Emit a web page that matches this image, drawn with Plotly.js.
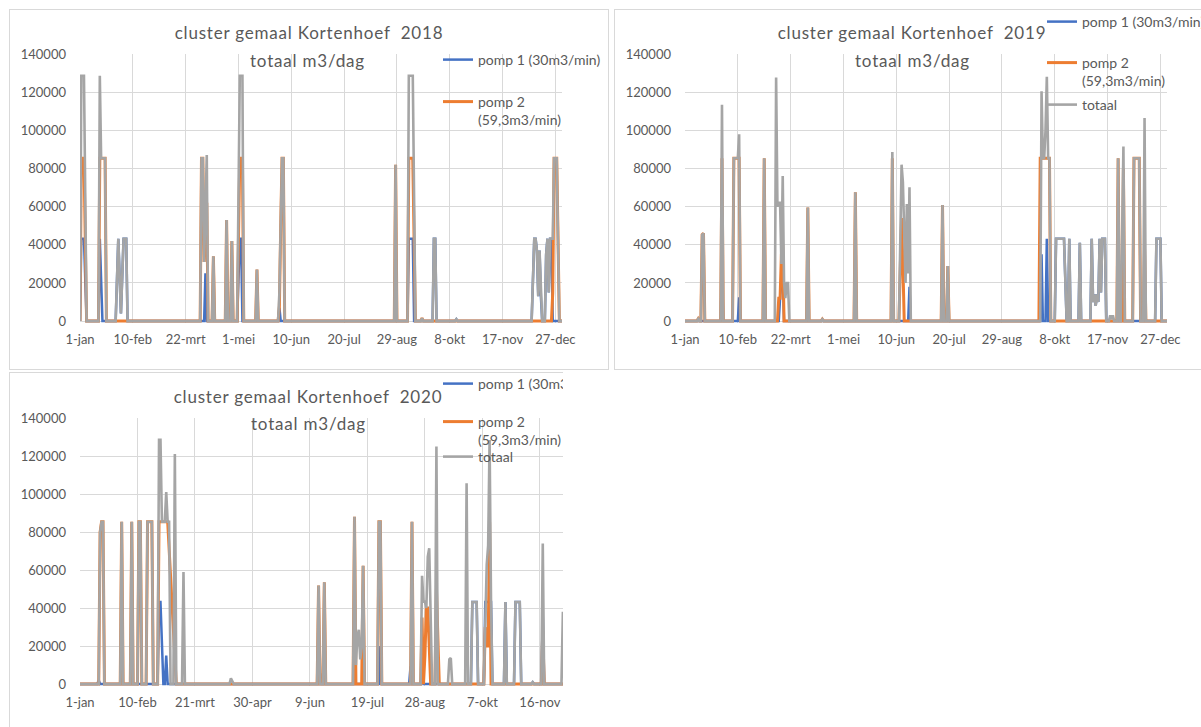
<!DOCTYPE html>
<html>
<head>
<meta charset="utf-8">
<title>cluster gemaal Kortenhoef</title>
<script src="https://cdn.plot.ly/plotly-3.0.1.min.js"></script>
<style>
  html, body { margin:0; padding:0; width:1201px; height:727px; overflow:hidden; background:#ffffff; }
  .box { position:absolute; border:1px solid #d9d9d9; background:#ffffff; }
  #clip3 { position:absolute; left:0; top:372px; width:563px; height:355px; overflow:hidden; }
  .gtitle, .annotation-text { letter-spacing:0.8px; }
</style>
</head>
<body>
<div id="chart2018" class="box" style="left:9px; top:9px; width:598px; height:359px;"></div>
<div id="chart2019" class="box" style="left:614px; top:9px; width:640px; height:359px;"></div>
<div id="clip3"><div id="chart2020" class="box" style="left:9px; top:0px; width:640px; height:400px;"></div></div>
<script>
// ---------- tick labels ----------
const tickDays = [0, 40, 80, 120, 160, 200, 240, 280, 320, 360];
const labels2018 = ['1-jan','10-feb','22-mrt','1-mei','10-jun','20-jul','29-aug','8-okt','17-nov','27-dec'];
const labels2019 = ['1-jan','10-feb','22-mrt','1-mei','10-jun','20-jul','29-aug','8-okt','17-nov','27-dec'];
const labels2020 = ['1-jan','10-feb','21-mrt','30-apr','9-jun','19-jul','28-aug','7-okt','16-nov','26-dec'];

// ---------- 2018 : [day of year (0 = 1 jan), m3/dag] ----------
const pomp1_2018 = [[0,0],[1,43200],[3,43200],[5,0],
 [14,0],[15,43200],[17,0],
 [27,0],[29,43200],[31,4000],[33,43200],[35,43200],[36,0],
 [94,0],[95,25000],[96,0],
 [119,0],[121,43200],[122,43200],[123,0],
 [150,0],[151,7000],[152,0],
 [248,0],[249,43200],[252,43200],[253,0],
 [267,0],[268,43200],[269,43200],[270,0],
 [284,0],[285,1000],[286,0],
 [342,0],[344,43200],[345,43200],[346,37000],[347,13000],[348,37000],[349,13000],[350,0],
 [352,0],[353,35000],[354,43200],[355,15000],[356,43200],[357,43200],[358,0],
 [365,0]];
const pomp2_2018 = [[0,0],[1,85392],[3,85392],[5,0],
 [14,0],[15,85392],[19,85392],[20,0],
 [91,0],[92,85392],[93,85392],[94,31000],[96,62000],[97,0],
 [100,0],[101,34000],[102,0],
 [110,0],[111,53000],[112,0],
 [114,0],[115,42000],[116,0],
 [119,0],[121,85392],[123,85392],[124,0],
 [133,0],[134,27000],[135,0],
 [150,0],[151,8000],[152,50000],[153,85392],[154,85392],[155,0],
 [238,0],[239,82000],[240,0],
 [248,0],[249,85392],[252,85392],[254,0],
 [258,0],[259,1500],[260,0],
 [357,0],[358,15000],[359,85392],[361,85392],[363,0],
 [365,0]];
const totaal_2018 = [[0,0],[1,128592],[3,128592],[5,0],
 [14,0],[15,128592],[16,85392],[19,85392],[20,0],
 [27,0],[29,43200],[31,4000],[33,43200],[35,43200],[36,0],
 [91,0],[92,85392],[93,85392],[94,31000],[96,87000],[97,0],
 [100,0],[101,34000],[102,0],
 [110,0],[111,53000],[112,0],
 [114,0],[115,42000],[116,0],
 [119,0],[121,128592],[123,128592],[124,0],
 [133,0],[134,27000],[135,0],
 [150,0],[151,15000],[152,50000],[153,85392],[154,85392],[155,0],
 [238,0],[239,82000],[240,0],
 [248,0],[249,128592],[252,128592],[254,0],
 [258,0],[259,1500],[260,0],
 [267,0],[268,43200],[269,43200],[270,0],
 [284,0],[285,1000],[286,0],
 [342,0],[344,43200],[345,43200],[346,37000],[347,13000],[348,37000],[349,13000],[350,0],
 [352,0],[353,35000],[354,43200],[355,15000],[356,43200],[357,43200],[358,43200],[359,85392],[361,85392],[363,0],
 [365,0]];

// ---------- 2019 ----------
const pomp1_2019 = [[0,0],
 [27,0],[28,28000],[29,0],
 [40,0],[41,12500],[42,0],
 [71,0],[72,12000],[73,23000],[74,23000],[75,0],
 [156,0],[157,3200],[158,0],
 [169,0],[170,18000],[171,0],
 [269,0],[270,35000],[271,0],
 [273,0],[274,43200],[275,0],
 [280,0],[281,43200],[287,43200],[289,0],
 [290,0],[291,43200],[292,0],
 [298,0],[299,41000],[300,0],
 [307,0],[308,43200],[309,10000],[310,14000],[311,8000],[312,14000],[313,10000],[314,43200],[315,15000],[316,43200],[318,43200],[319,0],
 [356,0],[357,43200],[360,43200],[361,0],
 [365,0]];
const pomp2_2019 = [[0,0],
 [9,0],[10,1200],[11,0],
 [12,0],[13,45300],[14,46000],[15,0],
 [27,0],[28,85392],[29,0],
 [36,0],[37,85392],[41,85392],[42,0],
 [59,0],[60,85392],[61,0],
 [70,0],[71,12000],[72,12000],[73,35000],[74,40000],[75,0],
 [92,0],[93,59500],[94,0],
 [103,0],[104,1000],[105,0],
 [128,0],[129,67500],[130,0],
 [156,0],[157,85392],[158,0],
 [162,0],[164,54000],[165,30000],[166,0],
 [194,0],[195,60900],[196,0],
 [198,0],[199,28800],[200,0],
 [268,0],[269,85392],[276,85392],[277,0],
 [327,0],[328,85392],[329,0],
 [331,0],[332,80000],[333,0],
 [339,0],[340,85392],[344,85392],[345,0],
 [347,0],[348,38000],[349,0],
 [365,0]];
const totaal_2019 = [[0,0],
 [9,0],[10,1200],[11,0],
 [12,0],[13,45300],[14,46000],[15,0],
 [27,0],[28,113400],[29,0],
 [36,0],[37,85392],[40,85392],[41,97900],[42,0],
 [59,0],[60,85392],[61,0],
 [68,0],[69,127700],[70,60000],[71,62000],[72,62000],[73,30000],[74,76000],[75,20000],[76,12000],[77,20000],[78,20000],[79,0],
 [92,0],[93,59500],[94,0],
 [103,0],[104,1000],[105,0],
 [128,0],[129,67500],[130,0],
 [156,0],[157,88600],[158,0],
 [162,0],[164,82000],[165,72900],[167,20000],[168,61400],[169,25000],[170,70100],[171,0],
 [194,0],[195,60900],[196,0],
 [198,0],[199,28800],[200,0],
 [269,0],[270,120500],[271,85392],[272,85392],[273,100000],[274,128000],[275,85392],[276,85392],[277,0],
 [280,0],[281,43200],[287,43200],[289,0],
 [290,0],[291,43200],[292,0],
 [298,0],[299,41000],[300,0],
 [307,0],[308,43200],[309,10000],[310,14000],[311,8000],[312,14000],[313,10000],[314,43200],[315,15000],[316,43200],[318,43200],[319,0],
 [321,0],[322,3000],[323,1000],[324,3000],[325,0],
 [327,0],[328,85392],[329,0],
 [330,0],[332,91500],[333,0],
 [339,0],[340,85392],[344,85392],[345,0],
 [347,0],[348,106500],[349,0],
 [356,0],[357,43200],[360,43200],[361,0],
 [365,0]];

// ---------- 2020 ----------
const pomp1_2020 = [[0,0],
 [12,0],[13,2000],[14,0],
 [54,0],[55,43200],[56,43200],[58,0],[59,0],[60,15000],[61,0],
 [166,0],[167,5800],[168,0],
 [208,0],[209,20000],[210,0],
 [229,0],[230,9300],[231,0],
 [237,0],[238,5000],[239,0],
 [272,0],[273,43200],[276,43200],[277,0],
 [281,0],[282,43200],[286,43200],[287,0],
 [295,0],[296,43200],[297,0],
 [302,0],[303,43200],[306,43200],[307,0],
 [314,0],[315,1000],[316,0],
 [321,0],[322,36000],[323,0],
 [366,0]];
const pomp2_2020 = [[0,0],
 [13,0],[14,80000],[15,85392],[16,85392],[17,0],
 [28,0],[29,85392],[30,0],
 [35,0],[36,85392],[37,0],
 [40,0],[41,85392],[42,85392],[43,0],
 [46,0],[47,85392],[50,85392],[51,0],
 [54,0],[55,85392],[61,85392],[67,0],
 [165,0],[166,51900],[167,0],
 [169,0],[170,53600],[171,0],
 [190,0],[191,88100],[192,0],
 [196,0],[197,62200],[198,0],
 [207,0],[208,85392],[209,85392],[210,0],
 [230,0],[231,85392],[232,0],
 [237,0],[238,35000],[239,0],[240,15000],[241,40000],[242,40000],[243,20000],[244,0],
 [247,0],[248,50000],[250,0],
 [281,0],[282,30000],[283,20000],[284,20000],[285,85392],[286,0],
 [321,0],[322,28000],[323,0],
 [366,0]];
const totaal_2020 = [[0,0],
 [13,0],[14,80000],[15,85392],[16,85392],[17,0],
 [28,0],[29,85392],[30,0],
 [35,0],[36,85392],[37,0],
 [40,0],[41,85392],[42,85392],[43,0],
 [46,0],[47,85392],[50,85392],[51,0],
 [54,0],[55,128592],[56,128592],[57,85392],[59,85392],[60,101000],[61,85392],[62,85392],[63,0],
 [65,0],[66,121000],[67,0],
 [71,0],[72,59000],[73,0],
 [104,0],[105,3000],[107,0],
 [165,0],[166,51900],[167,0],
 [169,0],[170,53600],[171,0],
 [190,0],[191,88100],[192,10000],[193,25000],[194,28600],[195,13000],[196,20000],[197,62200],[198,0],
 [207,0],[208,85392],[209,85392],[210,0],
 [230,0],[231,85392],[232,0],
 [237,0],[238,57000],[239,43400],[240,43400],[241,40000],[242,67000],[243,71500],[244,35000],[245,0],
 [247,0],[248,125000],[249,0],
 [256,0],[257,13000],[258,13700],[259,0],
 [268,0],[269,105600],[270,0],
 [272,0],[273,43200],[276,43200],[277,0],
 [281,0],[283,62700],[284,73000],[285,128400],[286,43200],[287,0],
 [295,0],[296,43200],[297,0],
 [302,0],[303,43200],[306,43200],[307,0],
 [314,0],[315,1000],[316,0],
 [321,0],[322,74000],[323,0],
 [335,0],[336,38000],[337,0],
 [366,0]];

// ---------- styling ----------
const BLUE = '#4472C4', ORANGE = '#ED7D31', GREY = '#A5A5A5', TXT = '#595959', GRID = '#d9d9d9';
const FONT = 'Lato, "Open Sans", sans-serif';
const xs = a => a.map(p => p[0]);
const ys = a => a.map(p => p[1]);

function buildPanel(id, cfg) {
  const W = cfg.w, H = cfg.h, L = 70;
  const traces = [
    {type:'scatter', mode:'lines', x:xs(cfg.p1), y:ys(cfg.p1), name:'pomp 1 (30m3/min)',
     legend:'legend', line:{color:BLUE, width:2.5}},
    {type:'scatter', mode:'lines', x:xs(cfg.p2), y:ys(cfg.p2), name:'pomp 2<br>(59,3m3/min)',
     legend:'legend2', line:{color:ORANGE, width:3}},
    {type:'scatter', mode:'lines', x:xs(cfg.t), y:ys(cfg.t), name:'totaal',
     legend:'legend3', showlegend:cfg.showTotaal, line:{color:GREY, width:2.6}}
  ];
  // legend positions given in pixels inside the panel, converted to paper fractions
  const leg = (px, py, anchor) => ({
    x: (px - L) / cfg.plotW, y: 1 - (py - cfg.top) / cfg.plotH, xref:'paper', yref:'paper',
    xanchor:'left', yanchor:anchor, bgcolor:'rgba(0,0,0,0)', borderwidth:0,
    valign:'top', itemwidth:30, font:{family:FONT, size:14, color:TXT}
  });
  const layout = {
    width:W, height:H,
    margin:{l:L, r:W - L - cfg.plotW, t:cfg.top, b:H - cfg.top - cfg.plotH, pad:0, autoexpand:false},
    paper_bgcolor:'#ffffff', plot_bgcolor:'#ffffff',
    font:{family:FONT, size:13, color:TXT},
    showlegend:true,
    title:{text:cfg.title, xref:'container', yref:'container', x:cfg.titleX / W, y:1 - cfg.titleY / H,
           xanchor:'center', yanchor:'middle', font:{family:FONT, size:17, color:TXT}},
    annotations:[{text:'totaal m3/dag', xref:'paper', yref:'paper', x:cfg.subX, y:cfg.subY,
                  xanchor:'center', yanchor:'middle', showarrow:false,
                  font:{family:FONT, size:17, color:TXT}}],
    xaxis:{range:[0, cfg.N], tickmode:'array', tickvals:tickDays, ticktext:cfg.labels, tickangle:0,
           showgrid:true, gridcolor:GRID, gridwidth:1, zeroline:false, showline:false,
           ticks:'', ticklabelstandoff:7, automargin:false, tickfont:{family:FONT, size:13, color:TXT}},
    yaxis:{range:[-1000, 140000], tick0:0, dtick:20000, tickformat:'d', automargin:false,
           showgrid:true, gridcolor:GRID, gridwidth:1, zeroline:false, showline:false,
           ticks:'', ticklabelstandoff:13, tickfont:{family:FONT, size:13, color:TXT}},
    legend:leg(cfg.legX, cfg.legY[0], 'middle'),
    legend2:leg(cfg.legX, cfg.legY[1], 'top'),
    legend3:leg(cfg.legX, cfg.legY[2], 'middle')
  };
  Plotly.newPlot(id, traces, layout, {staticPlot:true, displayModeBar:false});
}

buildPanel('chart2018', {
  w:598, h:359, top:44, plotW:482, plotH:269, N:365, labels:labels2018,
  p1:pomp1_2018, p2:pomp2_2018, t:totaal_2018, showTotaal:false,
  title:'cluster gemaal Kortenhoef  2018', titleX:299, titleY:23,
  subX:0.471, subY:0.975,
  legX:428, legY:[50, 76, 0]
});
buildPanel('chart2019', {
  w:640, h:359, top:44, plotW:482, plotH:269, N:365, labels:labels2019,
  p1:pomp1_2019, p2:pomp2_2019, t:totaal_2019, showTotaal:true,
  title:'cluster gemaal Kortenhoef  2019', titleX:297, titleY:23,
  subX:0.471, subY:0.975,
  legX:427, legY:[12, 37, 95]
});
buildPanel('chart2020', {
  w:640, h:400, top:45, plotW:526, plotH:268, N:366, labels:labels2020,
  p1:pomp1_2020, p2:pomp2_2020, t:totaal_2020, showTotaal:true,
  title:'cluster gemaal Kortenhoef  2020', titleX:298, titleY:24,
  subX:0.4335, subY:0.98,
  legX:428, legY:[11, 33, 84]
});
</script>
</body>
</html>
